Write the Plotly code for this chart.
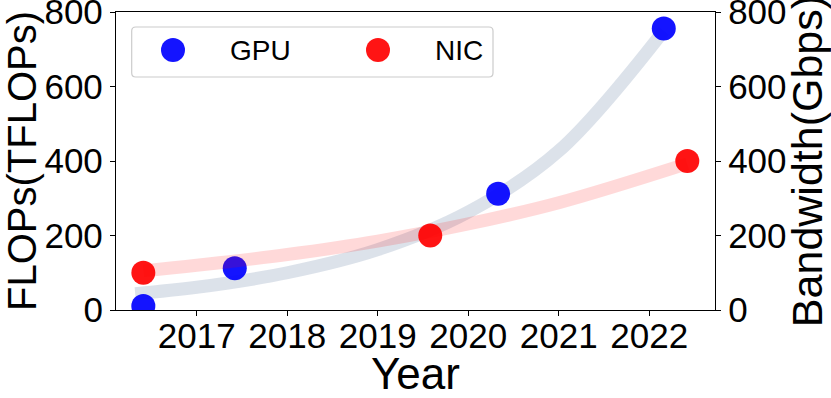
import plotly.graph_objects as go

# Data points
gpu_years = [2016.41, 2017.42, 2020.33, 2022.16]
gpu_tflops = [10.6, 112, 312, 756]
nic_years = [2016.41, 2019.58, 2022.42]
nic_gbps = [100, 200, 400]

# Trend bands (read along the centre of each faint curve)
gpu_trend_years = [2016.32, 2017.0, 2018.0, 2019.0, 2020.0, 2021.0, 2022.16]
gpu_trend_vals = [44, 61, 100, 162, 263, 427, 750]
nic_trend_years = [2016.41, 2017.0, 2018.0, 2019.0, 2020.0, 2021.0, 2022.42]
nic_trend_vals = [105, 120, 149, 185, 231, 288, 393]

year_ticks = [2017, 2018, 2019, 2020, 2021, 2022]
value_ticks = [0, 200, 400, 600, 800]

FONT = "Liberation Sans"
W, H = 831, 398
M_L, M_R, M_T, M_B = 116, 116, 12, 88
PW = W - M_L - M_R
PH = H - M_T - M_B

fig = go.Figure()

fig.add_trace(go.Scatter(
    x=gpu_trend_years, y=gpu_trend_vals, mode="lines",
    line=dict(color="rgba(80,110,150,0.2)", width=13, shape="spline"),
    showlegend=False, hoverinfo="skip",
))
fig.add_trace(go.Scatter(
    x=nic_trend_years, y=nic_trend_vals, mode="lines", yaxis="y2",
    line=dict(color="rgba(255,0,0,0.15)", width=13, shape="spline"),
    showlegend=False, hoverinfo="skip",
))
fig.add_trace(go.Scatter(
    x=gpu_years, y=gpu_tflops, mode="markers", name="GPU",
    marker=dict(color="blue", size=24, opacity=0.92, line=dict(width=0)),
    showlegend=False,
))
fig.add_trace(go.Scatter(
    x=nic_years, y=nic_gbps, mode="markers", name="NIC", yaxis="y2",
    marker=dict(color="red", size=24, opacity=0.92, line=dict(width=0)),
    showlegend=False,
))

axis_common = dict(
    range=[0, 800], tickvals=value_ticks, ticks="outside", ticklen=5,
    tickwidth=1.2, tickcolor="black", showline=True, linecolor="black",
    linewidth=1.3, showgrid=False, zeroline=False, automargin=False,
    ticklabeloverflow="allow", tickfont=dict(size=35, color="black"),
)

fig.update_layout(
    width=W, height=H,
    margin=dict(l=M_L, r=M_R, t=M_T, b=M_B),
    plot_bgcolor="white", paper_bgcolor="white",
    font=dict(family=FONT, color="black"),
    xaxis=dict(
        range=[2016.108, 2022.726], tickvals=year_ticks, ticks="outside",
        ticklen=5, tickwidth=1.2, tickcolor="black", showline=True,
        linecolor="black", linewidth=1.3, mirror=True, showgrid=False,
        zeroline=False, automargin=False, ticklabeloverflow="allow",
        tickangle=0, ticklabelstandoff=-10, tickfont=dict(size=35, color="black"),
        title=dict(text="Year", font=dict(size=44), standoff=0),
    ),
    yaxis=dict(**axis_common,
               title=dict(text="FLOPs(TFLOPs)", font=dict(size=40), standoff=10)),
    yaxis2=dict(**axis_common, overlaying="y", side="right",
                title=dict(text="Bandwidth(Gbps)", font=dict(size=43), standoff=2)),
)

# Legend box drawn by hand so the symbols keep the marker size
def px_x(p):
    return (p - M_L) / PW


def px_y(p):
    return (M_T + PH - p) / PH


x0, x1 = px_x(131.7), px_x(493)
y0, y1 = px_y(77), px_y(27)
rx, ry = 4 / PW, 4 / PH
path = (f"M {x0+rx},{y0} L {x1-rx},{y0} Q {x1},{y0} {x1},{y0+ry} "
        f"L {x1},{y1-ry} Q {x1},{y1} {x1-rx},{y1} L {x0+rx},{y1} "
        f"Q {x0},{y1} {x0},{y1-ry} L {x0},{y0+ry} Q {x0},{y0} {x0+rx},{y0} Z")
fig.add_shape(type="path", path=path, xref="paper", yref="paper",
              line=dict(color="#cccccc", width=1.2),
              fillcolor="rgba(255,255,255,0.8)", layer="above")

legend_items = [("GPU", "blue", 173, 228), ("NIC", "red", 378, 433)]
ly = px_y(50)
for label, color, mx, tx in legend_items:
    fig.add_shape(type="circle", xref="paper", yref="paper",
                  xsizemode="pixel", ysizemode="pixel",
                  xanchor=px_x(mx), yanchor=ly, x0=-12, x1=12, y0=-12, y1=12,
                  fillcolor=color, opacity=0.92, line=dict(width=0), layer="above")
    fig.add_annotation(text=label, xref="paper", yref="paper", x=px_x(tx), y=ly,
                       xanchor="left", yanchor="middle", showarrow=False,
                       font=dict(size=28, color="black"))

# drop the browser's default body margin so the figure fills the window
fig.write_html(
    "out.html",
    config={"displayModeBar": False},
    post_script="document.body.style.margin='0';",
)
